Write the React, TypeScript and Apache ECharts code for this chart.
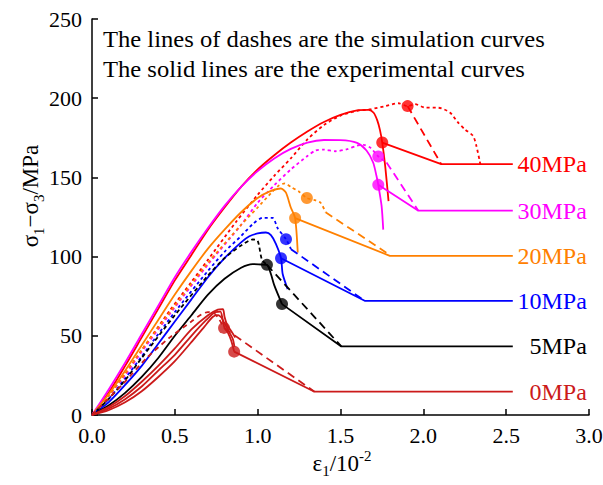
import React, { useEffect, useRef } from "react";
import * as echarts from "echarts";

type Pt = [number, number];

// Axis ticks
const xTicks = [0, 0.5, 1.0, 1.5, 2.0, 2.5, 3.0];
const yTicks = [0, 50, 100, 150, 200, 250];

// Confining pressure labels
const pressureLabels = ["40MPa", "30MPa", "20MPa", "10MPa", "5MPa", "0MPa"];
const pressureColors = ["#ff0000", "#ff00ff", "#ff8000", "#0000ff", "#000000", "#cc1a1a"];

// Note lines at the top of the plot
const noteLines = [
  "The lines of dashes are the simulation curves",
  "The solid lines are the experimental curves",
];

// 40 MPa
const exp40: Pt[] = [[0,0],[0.1,14],[0.2,31],[0.3,49],[0.4,67],[0.5,85],[0.6,101],[0.7,117],[0.8,131],[0.9,144],[1.0,155],[1.1,164],[1.2,172],[1.3,179],[1.4,185],[1.5,189.5],[1.6,192.3],[1.67,192.6],[1.7,190.8],[1.722,186],[1.738,180],[1.752,172],[1.77,157],[1.79,135]];
const sim40: Pt[] = [[0,0],[0.1,12],[0.2,26],[0.3,41],[0.47,66],[0.6,84],[0.7,98],[0.87,122],[1.0,139],[1.1,151],[1.2,162],[1.3,174],[1.4,183],[1.5,189],[1.6,192],[1.68,193],[1.77,195],[1.85,196.8],[1.905,195],[1.95,196.2],[2.01,194.1],[2.09,194],[2.16,191],[2.21,184.6],[2.25,180.4],[2.3,176.2],[2.32,170],[2.344,158.4]];
const dash40: Pt[] = [[1.905,195],[2.108,158.4]];
const resid40: Pt[] = [[1.752,172],[2.108,158.4],[2.54,158.4]];
const dots40: Pt[] = [[1.905,195],[1.752,172]];

// 30 MPa
const exp30: Pt[] = [[0,0],[0.1,16],[0.2,33],[0.3,51],[0.4,69],[0.5,87],[0.6,103],[0.7,118],[0.8,132],[0.9,144],[1.0,154],[1.1,162],[1.2,168],[1.3,172],[1.4,173.6],[1.5,173.5],[1.6,171.8],[1.657,167],[1.697,159.4],[1.717,151],[1.728,145.3],[1.748,132],[1.758,117]];
const sim30: Pt[] = [[0,0],[0.1,12],[0.2,25],[0.3,40],[0.5,68],[0.7,95],[0.9,120],[1.0,134],[1.1,145],[1.2,155],[1.3,163.5],[1.35,167],[1.4,167.5],[1.47,166.5],[1.54,167.8],[1.6,170],[1.64,170.5],[1.68,168.8],[1.728,163.2],[1.778,159.4]];
const dash30: Pt[] = [[1.778,159.4],[1.97,129]];
const resid30: Pt[] = [[1.728,145.3],[1.97,129],[2.54,129]];
const dots30: Pt[] = [[1.728,163.2],[1.728,145.3]];

// 20 MPa
const exp20: Pt[] = [[0,0],[0.1,13],[0.2,28],[0.3,44],[0.4,60],[0.5,76],[0.6,91],[0.7,105],[0.8,117],[0.9,128],[1.0,137],[1.07,141],[1.14,143],[1.17,140.5],[1.2,131],[1.226,124.3],[1.242,102.6]];
const sim20: Pt[] = [[0,0],[0.1,12],[0.2,26],[0.3,41],[0.5,69],[0.7,96],[0.9,120],[1.0,131],[1.08,140],[1.13,145],[1.165,146.2],[1.2,144],[1.25,141],[1.297,137],[1.35,135.5],[1.38,134],[1.41,128]];
const dash20: Pt[] = [[1.41,128],[1.798,101]];
const resid20: Pt[] = [[1.226,124.3],[1.798,100.5],[2.54,100.5]];
const dots20: Pt[] = [[1.297,137],[1.226,124.3]];

// 10 MPa
const exp10: Pt[] = [[0,0],[0.1,8],[0.2,19],[0.3,31],[0.4,45],[0.5,59],[0.6,73],[0.7,87],[0.8,99],[0.9,109],[0.95,112.8],[1.0,114.6],[1.05,115.2],[1.08,113.5],[1.11,108],[1.141,99],[1.151,89],[1.181,79.5]];
const sim10: Pt[] = [[0,0],[0.1,10],[0.2,23],[0.3,37],[0.5,65],[0.7,91],[0.8,103],[0.9,113],[0.97,120.5],[1.03,124.5],[1.09,124.5],[1.12,118],[1.171,111],[1.201,104.7]];
const dash10: Pt[] = [[1.201,104.7],[1.646,72.1]];
const resid10: Pt[] = [[1.141,99],[1.646,72.1],[2.54,72.1]];
const dots10: Pt[] = [[1.171,111],[1.141,99]];

// 5 MPa
const exp5: Pt[] = [[0,0],[0.1,6],[0.2,14],[0.3,24],[0.4,36],[0.5,50],[0.6,63],[0.7,76],[0.8,86],[0.9,93],[0.97,95.3],[1.02,95],[1.056,94.8],[1.08,89],[1.1,82],[1.147,70]];
const sim5: Pt[] = [[0,0],[0.1,10],[0.2,22],[0.3,36],[0.5,63],[0.7,88],[0.8,99],[0.9,107],[0.97,110.8],[1.0,110],[1.026,98],[1.056,94.8]];
const dash5: Pt[] = [[1.056,94.8],[1.505,43.3]];
const resid5: Pt[] = [[1.147,70],[1.505,43.3],[2.54,43.3]];
const dots5: Pt[] = [[1.056,94.8],[1.147,70]];

// 0 MPa (three uniaxial tests)
const exp0a: Pt[] = [[0,0],[0.1,3],[0.2,8],[0.3,15],[0.4,24],[0.5,34],[0.6,46],[0.68,56],[0.73,62],[0.76,63],[0.785,61],[0.8,55],[0.82,52],[0.84,47],[0.858,40]];
const exp0b: Pt[] = [[0,0],[0.1,4],[0.2,10],[0.3,18],[0.4,28],[0.5,38],[0.6,50],[0.69,60],[0.745,65],[0.775,65.2],[0.79,60],[0.81,56],[0.83,52],[0.85,48],[0.86,43]];
const exp0c: Pt[] = [[0,0],[0.1,5],[0.2,12],[0.3,21],[0.4,31],[0.5,42],[0.6,54],[0.7,63],[0.76,66.5],[0.79,66.8],[0.8,62],[0.815,57],[0.84,53],[0.865,49]];
const sim0: Pt[] = [[0,0],[0.09,9.5],[0.19,20],[0.33,36],[0.47,49],[0.6,59],[0.66,63.5],[0.7,65],[0.74,64],[0.77,60],[0.797,55]];
const dash0: Pt[] = [[0.797,55],[1.343,14.7]];
const resid0: Pt[] = [[0.858,40],[1.343,14.7],[2.54,14.7]];
const dots0: Pt[] = [[0.797,55],[0.858,40]];

const FONT = '"Liberation Serif", "Times New Roman", serif';

interface Group {
  exp: Pt[][];
  sim: Pt[];
  dash: Pt[];
  resid: Pt[];
  dots: Pt[];
  simDash: number[];
}

const groups: Group[] = [
  { exp: [exp40], sim: sim40, dash: dash40, resid: resid40, dots: dots40, simDash: [3, 3] },
  { exp: [exp30], sim: sim30, dash: dash30, resid: resid30, dots: dots30, simDash: [3, 3] },
  { exp: [exp20], sim: sim20, dash: dash20, resid: resid20, dots: dots20, simDash: [3, 3] },
  { exp: [exp10], sim: sim10, dash: dash10, resid: resid10, dots: dots10, simDash: [3, 3] },
  { exp: [exp5], sim: sim5, dash: dash5, resid: resid5, dots: dots5, simDash: [4, 3] },
  { exp: [exp0a, exp0b, exp0c], sim: sim0, dash: dash0, resid: resid0, dots: dots0, simDash: [5, 4] },
];

function buildSeries() {
  const series: any[] = [];
  groups.forEach((g, i) => {
    const color = pressureColors[i];
    const base = { type: "line", symbol: "none", silent: true, z: 2 };
    g.exp.forEach((curve) => {
      series.push({
        ...base,
        data: curve,
        smooth: 0.25,
        lineStyle: { color, width: 1.8 },
      });
    });
    series.push({
      ...base,
      data: g.sim,
      smooth: 0.25,
      lineStyle: { color, width: 1.8, type: g.simDash },
    });
    series.push({
      ...base,
      data: g.dash,
      lineStyle: { color, width: 1.8, type: [8, 5] },
    });
    series.push({
      ...base,
      data: g.resid,
      lineStyle: { color, width: 1.8 },
      endLabel: {
        show: true,
        formatter: pressureLabels[i],
        color,
        fontFamily: FONT,
        fontSize: 24,
        align: "right",
        distance: 74,
      },
    });
    series.push({
      type: "scatter",
      data: g.dots,
      symbol: "circle",
      symbolSize: 12,
      itemStyle: { color },
      silent: true,
      z: 3,
    });
  });
  return series;
}

export default function App() {
  const ref = useRef<HTMLDivElement>(null);

  useEffect(() => {
    if (!ref.current) return;
    const chart = echarts.init(ref.current, null, { renderer: "svg" });
    const axisText = { color: "#000", fontFamily: FONT, fontSize: 22 };
    chart.setOption({
      animation: false,
      backgroundColor: "#fff",
      grid: {
        left: 92,
        right: 14,
        top: 19,
        bottom: 70,
        containLabel: false,
        outerBoundsMode: "none",
      },
      xAxis: {
        type: "value",
        min: xTicks[0],
        max: xTicks[xTicks.length - 1],
        interval: 0.5,
        axisLine: { lineStyle: { color: "#000", width: 1.5 } },
        axisTick: { inside: true, length: 6, lineStyle: { color: "#000", width: 1.5 } },
        splitLine: { show: false },
        axisLabel: { ...axisText, margin: 9, formatter: (v: number) => v.toFixed(1) },
      },
      yAxis: {
        type: "value",
        min: yTicks[0],
        max: yTicks[yTicks.length - 1],
        interval: 50,
        axisLine: { show: true, lineStyle: { color: "#000", width: 1.5 } },
        axisTick: { show: true, inside: true, length: 6, lineStyle: { color: "#000", width: 1.5 } },
        splitLine: { show: false },
        axisLabel: { ...axisText, margin: 10 },
      },
      graphic: [
        {
          type: "text",
          x: 30,
          y: 196,
          rotation: Math.PI / 2,
          style: {
            text: "σ{sub|1}−σ{sub|3}/MPa",
            font: `23px ${FONT}`,
            fill: "#000",
            align: "center",
            verticalAlign: "middle",
            rich: {
              sub: { fontFamily: FONT, fontSize: 15, fill: "#000", verticalAlign: "bottom", lineHeight: 32 },
            },
          },
        },
        {
          type: "text",
          x: 342,
          y: 463,
          style: {
            text: "ε{sub|1}/10{sup|-2}",
            font: `23px ${FONT}`,
            fill: "#000",
            align: "center",
            verticalAlign: "middle",
            rich: {
              sub: { fontFamily: FONT, fontSize: 15, fill: "#000", verticalAlign: "bottom", lineHeight: 30 },
              sup: { fontFamily: FONT, fontSize: 15, fill: "#000", verticalAlign: "top", lineHeight: 30 },
            },
          },
        },
        {
          type: "text",
          x: 103,
          y: 28,
          scaleX: 1.07,
          style: { text: noteLines[0], font: `23px ${FONT}`, fill: "#000" },
        },
        {
          type: "text",
          x: 103,
          y: 58,
          scaleX: 1.07,
          style: { text: noteLines[1], font: `23px ${FONT}`, fill: "#000" },
        },
      ],
      series: buildSeries(),
    });
    return () => chart.dispose();
  }, []);

  return (
    <div
      ref={ref}
      style={{ position: "absolute", left: 0, top: 0, width: 603, height: 485 }}
    />
  );
}
